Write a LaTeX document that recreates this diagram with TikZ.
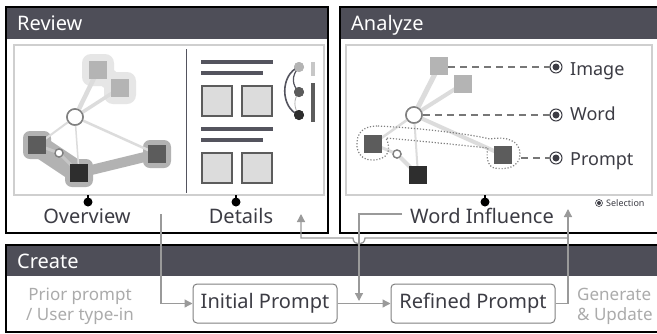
\documentclass[tikz,border=0pt]{standalone}
\usepackage{fontspec}
\setmainfont{Noto Sans}
\usetikzlibrary{arrows.meta}
\definecolor{hdr}{HTML}{4E4E58}
\definecolor{txt}{HTML}{3C3C44}
\definecolor{frm}{HTML}{CFCFCF}
\definecolor{arr}{HTML}{9A9A9A}
\definecolor{sqL}{HTML}{B4B4B4}
\definecolor{sqM}{HTML}{5C5C5C}
\definecolor{sqD}{HTML}{2E2E2E}
\definecolor{edg}{HTML}{DCDCDC}
\definecolor{hullL}{HTML}{E6E6E6}
\definecolor{hullD}{HTML}{B2B2B2}
\definecolor{dline}{HTML}{54545E}
\definecolor{boxf}{HTML}{DCDCDC}
\definecolor{dsh}{HTML}{777777}
\definecolor{soft}{HTML}{ABABAB}
\tikzset{
  panel/.style={draw=black, line width=1.8pt},
  hdrfill/.style={fill=hdr},
  hdrtext/.style={text=white, font=\fontsize{20}{24}\selectfont, inner sep=0pt, anchor=base west},
  inframe/.style={draw=frm, line width=1.2pt},
  sq/.style={rectangle, minimum size=18pt, inner sep=0pt},
  hollow/.style={circle, draw=gray, line width=1.5pt, fill=white, minimum size=16pt, inner sep=0pt},
  smallc/.style={circle, draw=gray, line width=1.3pt, fill=white, minimum size=8pt, inner sep=0pt},
  hullbox/.style={rectangle, rounded corners=7pt, minimum size=28pt, inner sep=0pt, fill=hullD},
  hullboxL/.style={rectangle, rounded corners=9pt, minimum size=32pt, inner sep=0pt, fill=hullL},
  ed/.style={draw=edg, line cap=round},
  lbl/.style={text=txt, font=\fontsize{20}{24}\selectfont, inner sep=0pt, anchor=base},
  albl/.style={text=txt, font=\fontsize{18}{22}\selectfont, inner sep=0pt, anchor=base west},
  stemdot/.style={circle, fill=black, minimum size=9pt, inner sep=0pt},
  stemln/.style={draw=black, line width=1.5pt},
  dbar/.style={draw=dline, line width=3.5pt},
  dbox/.style={rectangle, draw=sqM, fill=boxf, line width=2pt, minimum width=30pt, minimum height=30pt, inner sep=0pt},
  radio/.style={circle, draw=txt, line width=1pt, minimum size=12pt, inner sep=0pt,
     path picture={\fill[txt] (path picture bounding box.center) circle[radius=3.5pt];}},
  radioS/.style={circle, draw=txt, line width=0.6pt, minimum size=7pt, inner sep=0pt,
     path picture={\fill[txt] (path picture bounding box.center) circle[radius=2pt];}},
  dashln/.style={draw=dsh, line width=1.5pt, dash pattern=on 7pt off 5pt},
  dotln/.style={draw=gray, line width=1.2pt, dash pattern=on 1.2pt off 1.8pt},
  pbox/.style={rectangle, draw=gray, line width=1pt, rounded corners=4pt, fill=white, text=txt,
     font=\fontsize{20}{24}\selectfont, minimum height=39pt, inner sep=0pt},
  flow/.style={draw=arr, line width=1.3pt, -{Triangle[length=8pt,width=8pt]}},
  flowln/.style={draw=arr, line width=1.3pt},
  softtxt/.style={text=soft, font=\fontsize{17}{20}\selectfont, inner sep=0pt}
}
\begin{document}
\begin{tikzpicture}[x=1pt,y=-1pt]
\useasboundingbox (0,0) rectangle (657,333);
\fill[white] (0,0) rectangle (657,333);

% ---------- panels ----------
\fill[hdrfill] (6,7) rectangle (328,39);
\draw[panel] (6,7) rectangle (328,233);
\node[hdrtext] (revT) at (17,30) {Review};
\fill[hdrfill] (340,7) rectangle (664,39);
\draw[panel] (340,7) rectangle (664,233);
\node[hdrtext] (anaT) at (351,30) {Analyze};
\fill[hdrfill] (6,245) rectangle (664,276);
\draw[panel] (6,245) rectangle (664,332);
\node[hdrtext] (creT) at (17,268) {Create};

\draw[inframe] (14,45) rectangle (324,195);
\draw[inframe] (346,45) rectangle (652,195);

% ---------- Overview graph ----------
\draw[hullL, line width=20pt, line cap=round] (98,70) -- (120,88);
\node[hullboxL] (hT1) at (98,70) {};
\node[hullboxL] (hT2) at (120,88) {};
\draw[hullD, line width=22pt] (37,145) -- (79,173);
\draw[hullD, line width=10pt] (79,173) -- (157,154);
\node[hullbox] (hA) at (37,145) {};
\node[hullbox] (hB) at (79,173) {};
\node[hullbox] (hC) at (157,154) {};

\node[hollow] (oO) at (75,117) {};
\node[sq, fill=sqL] (oT1) at (98,70) {};
\node[sq, fill=sqL] (oT2) at (120,88) {};
\node[sq, fill=sqM] (oA) at (37,145) {};
\node[sq, fill=sqD] (oB) at (79,173) {};
\node[sq, fill=sqM] (oC) at (157,154) {};
\node[smallc] (oS) at (59,153) {};
\begin{scope}[on background layer/.style={}]
\end{scope}
\draw[ed, line width=4.5pt] (oO.center) -- (oT1.center);
\draw[ed, line width=3.5pt] (oO.center) -- (oT2.center);
\draw[ed, line width=2pt] (oO.center) -- (oA.center);
\draw[ed, line width=1.5pt] (oO.center) -- (oB.center);
\draw[ed, line width=2.5pt] (oO.center) -- (oC.center);
\draw[ed, draw=gray!45, line width=3pt] (oA.center) -- (oS.center) -- (oB.center);
% redraw nodes on top
\node[sq, fill=sqL] at (oT1) {};
\node[sq, fill=sqL] at (oT2) {};
\node[sq, fill=sqM] at (oA) {};
\node[sq, fill=sqD] at (oB) {};
\node[sq, fill=sqM] at (oC) {};
\node[hollow] at (oO) {};
\node[smallc] at (oS) {};

% divider
\draw[draw=dline, line width=1pt] (186,49) -- (186,193);

% ---------- Details ----------
\draw[dbar] (201,62) -- (273,62);
\draw[dbar] (201,73) -- (263,73);
\node[dbox] (d1) at (216.5,100.5) {};
\node[dbox] (d2) at (257,100.5) {};
\draw[dbar] (201,129) -- (273,129);
\draw[dbar] (201,140) -- (263,140);
\node[dbox] (d3) at (216.5,168) {};
\node[dbox] (d4) at (257,168) {};
\node[circle, fill=sqL, minimum size=10pt, inner sep=0pt] (c1) at (299,67) {};
\node[circle, fill=sqM, minimum size=10pt, inner sep=0pt] (c2) at (299,92) {};
\node[circle, fill=sqD, minimum size=10pt, inner sep=0pt] (c3) at (299,115) {};
\draw[draw=dline, line width=1.6pt] (c1.center) .. controls (280,74) and (280,108) .. (c3.center);
\draw[draw=dline, line width=1.2pt] (c1.center) .. controls (291,76) and (292,85) .. (c2.center);
\draw[draw=gray!60, line width=0.8pt] (c2.center) .. controls (293,100) and (294,108) .. (c3.center);
\node[circle, fill=sqL, minimum size=10pt, inner sep=0pt] at (c1) {};
\node[circle, fill=sqM, minimum size=10pt, inner sep=0pt] at (c2) {};
\node[circle, fill=sqD, minimum size=10pt, inner sep=0pt] at (c3) {};
\draw[draw=frm!90!gray, line width=3.5pt] (313,62) -- (313,76);
\draw[draw=sqM, line width=3.5pt] (313,83) -- (313,122);

% ---------- Analyze graph ----------
\coordinate (aTc1) at (439,66);
\node[hollow] (aO) at (414,115) {};
\node[sq, fill=sqL] (aT1) at (439,66) {};
\node[sq, fill=sqL] (aT2) at (463,84) {};
\node[sq, fill=sqM] (aA) at (373,144) {};
\node[sq, fill=sqD] (aB) at (418,175) {};
\node[sq, fill=sqM] (aC) at (503,155) {};
\node[smallc] (aS) at (397,154) {};
\draw[ed, line width=5pt] (aO.center) -- (aT1.center);
\draw[ed, line width=4pt] (aO.center) -- (aT2.center);
\draw[ed, line width=2.5pt] (aO.center) -- (aA.center);
\draw[ed, line width=2pt] (aO.center) -- (aB.center);
\draw[ed, line width=4pt] (aO.center) -- (aC.center);
\draw[ed, line width=3pt] (aA.center) -- (aS.center);
\draw[ed, line width=4pt] (aS.center) -- (aB.center);
\node[sq, fill=sqL] at (aT1) {};
\node[sq, fill=sqL] at (aT2) {};
\node[sq, fill=sqM] at (aA) {};
\node[sq, fill=sqD] at (aB) {};
\node[sq, fill=sqM] at (aC) {};
\node[hollow] at (aO) {};
\node[smallc] at (aS) {};
% dotted selection hull
\draw[dotln] (378,126) .. controls (420,128) and (470,134) .. (490,139)
  .. controls (505,136) and (520,140) .. (520,154)
  .. controls (520,168) and (505,170) .. (494,168)
  .. controls (487,166) and (486,155) .. (488,148)
  .. controls (460,145) and (410,140) .. (386,138)
  .. controls (392,150) and (388,160) .. (372,160)
  .. controls (360,160) and (356,150) .. (357,142)
  .. controls (358,130) and (366,126) .. (378,126);
\coordinate (hullR) at (521,157);

% radios and labels
\node[radio] (rImg) at (556,67) {};
\node[radio] (rWrd) at (556,115) {};
\node[radio] (rPr) at (556,158) {};
\draw[dashln] (aT1.east |- rImg.west) -- (rImg.west);
\draw[dashln] (aO.east |- rWrd.west) -- (rWrd.west);
\draw[dashln] (hullR |- rPr.west) -- (rPr.west);
\node[albl] (lImg) at (570,75) {Image};
\node[albl] (lWrd) at (570,120) {Word};
\node[albl] (lPr) at (570,165) {Prompt};
\node[radioS] (rSel) at (599,203) {};
\node[text=txt, font=\fontsize{9}{11}\selectfont, inner sep=0pt, anchor=west] (lSel) at (606,203) {Selection};

% stems and labels
\node[stemdot] (ovd) at (88,202) {};
\coordinate (ovtop) at (88,195);
\draw[stemln] (ovtop) -- (ovd.center);
\node[stemdot] (dtd) at (236,202) {};
\coordinate (dttop) at (236,195);
\draw[stemln] (dttop) -- (dtd.center);
\node[stemdot] (wid) at (485,202) {};
\coordinate (witop) at (485,195);
\draw[stemln] (witop) -- (wid.center);
\node[lbl] (ovL) at (87,223) {Overview};
\node[lbl] (dtL) at (241,223) {Details};
\node[lbl] (wiL) at (482,223) {Word Influence};

% ---------- Create ----------
\node[pbox, minimum width=144pt] (ip) at (265,303.5) {Initial Prompt};
\node[pbox, minimum width=164pt] (rp) at (473,303.5) {Refined Prompt};
\node[softtxt, align=center] (prior) at (80,306) {Prior prompt\\/ User type-in};
\node[softtxt, align=left, anchor=west] (gen) at (577,306) {Generate\\\& Update};

% ---------- flows ----------
\coordinate (ovs) at (161,214);
\draw[flow] (ovs) |- (ip.west);
\draw[flow] (ip.east) -- (rp.west);
\coordinate (wis) at (402,214);
\coordinate (wit) at (359,301);
\draw[flow] (wis) -| (wit);
\coordinate (gut) at (568,209);
\draw[flow] (rp.east) -| (gut);
\coordinate (brR) at (568,238);
\coordinate (hopR) at (365,238);
\coordinate (hopL) at (353,238);
\coordinate (dtc) at (301,238);
\coordinate (dtt) at (301,214);
\draw[flow] (brR) -- (hopR) .. controls (365,246) and (353,246) .. (hopL) -- (dtc) -- (dtt);
\end{tikzpicture}
\end{document}
